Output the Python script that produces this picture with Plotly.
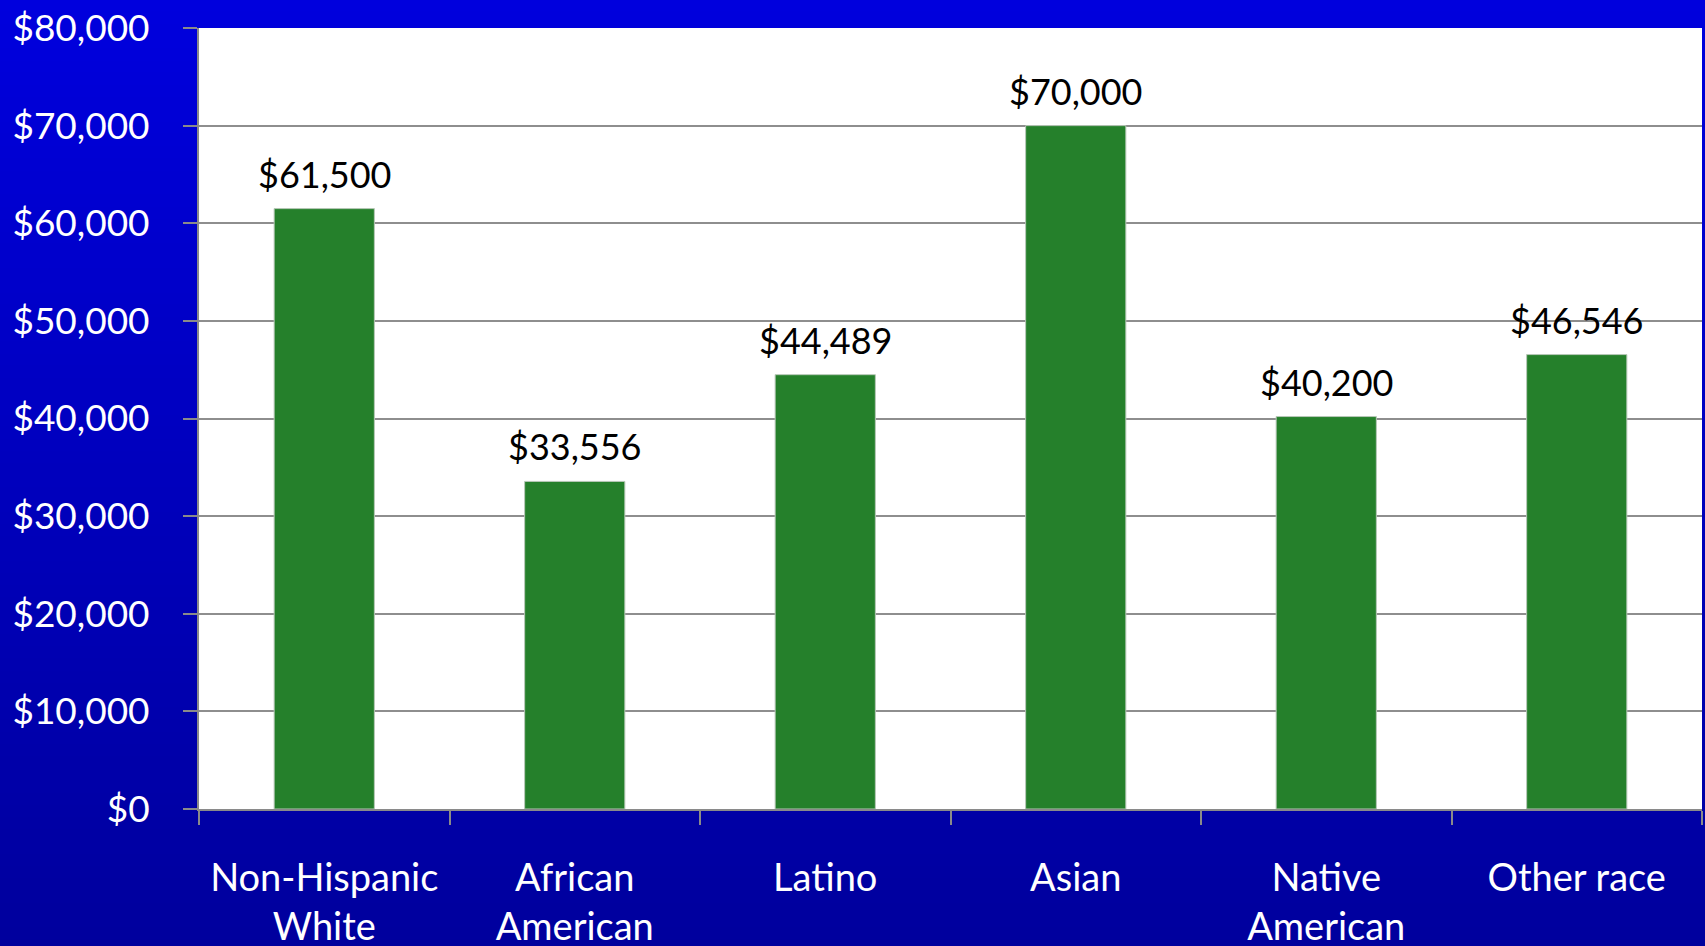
import plotly.graph_objects as go

# Median household income by race / ethnicity
categories = ["Non-Hispanic<br>White", "African<br>American", "Latino", "Asian",
              "Native<br>American", "Other race"]
income = [61500, 33556, 44489, 70000, 40200, 46546]
income_labels = ["$61,500", "$33,556", "$44,489", "$70,000", "$40,200", "$46,546"]

y_ticks = [0, 10000, 20000, 30000, 40000, 50000, 60000, 70000, 80000]
y_tick_text = ["$0", "$10,000", "$20,000", "$30,000", "$40,000",
               "$50,000", "$60,000", "$70,000", "$80,000"]

W, H = 1705, 946
FONT = "Lato"

fig = go.Figure()
fig.add_trace(go.Bar(
    x=categories,
    y=income,
    marker=dict(color="#25802B", line=dict(color="#B8C8B8", width=1)),
    hoverinfo="skip",
))

# Value labels sitting above each bar
for cat, val, lab in zip(categories, income, income_labels):
    fig.add_annotation(
        x=cat, y=val, text=lab, showarrow=False,
        xanchor="center", yanchor="middle", yshift=35,
        font=dict(family=FONT, size=36, color="black"),
    )

# Vertical blue gradient behind the whole figure
shapes = []
n = 80
top = (0x00, 0x00, 0xDE)
bot = (0x00, 0x00, 0x9C)
for i in range(n):
    t = i / (n - 1)
    c = tuple(round(top[k] + (bot[k] - top[k]) * t) for k in range(3))
    shapes.append(dict(
        type="rect", xref="paper", yref="paper", layer="below",
        x0=-0.2, x1=1.2,
        y0=1.05 - (i + 1) * (1.25 / n) - 0.002, y1=1.05 - i * (1.25 / n) + 0.002,
        fillcolor="rgb(%d,%d,%d)" % c, line=dict(width=0),
    ))
# White plotting area on top of the gradient
shapes.append(dict(type="rect", xref="paper", yref="paper", layer="below",
                   x0=0, x1=1, y0=0, y1=1, fillcolor="white", line=dict(width=0)))

fig.update_layout(
    width=W, height=H,
    margin=dict(l=199, r=3, t=28, b=137),
    paper_bgcolor="#0000C0",
    plot_bgcolor="white",
    showlegend=False,
    bargap=0.6,
    shapes=shapes,
    font=dict(family=FONT, color="white", size=37),
)
fig.update_xaxes(
    automargin=False,
    showgrid=False,
    showline=True, linecolor="#8A8A8A", linewidth=2,
    ticks="outside", tickson="boundaries", ticklen=14, tickwidth=2, tickcolor="#8A8A8A",
    tickfont=dict(family=FONT, size=38, color="white"),
    ticklabelstandoff=34,
)
fig.update_yaxes(
    automargin=False,
    range=[0, 80000],
    tickvals=y_ticks, ticktext=y_tick_text,
    showgrid=True, gridcolor="#8E8E8E", gridwidth=2,
    showline=True, linecolor="#8A8A8A", linewidth=2,
    ticks="outside", ticklen=14, tickwidth=2, tickcolor="#8A8A8A",
    tickfont=dict(family=FONT, size=37, color="white"),
    ticklabelstandoff=26,
    zeroline=False,
)

fig.write_html("out.html")
